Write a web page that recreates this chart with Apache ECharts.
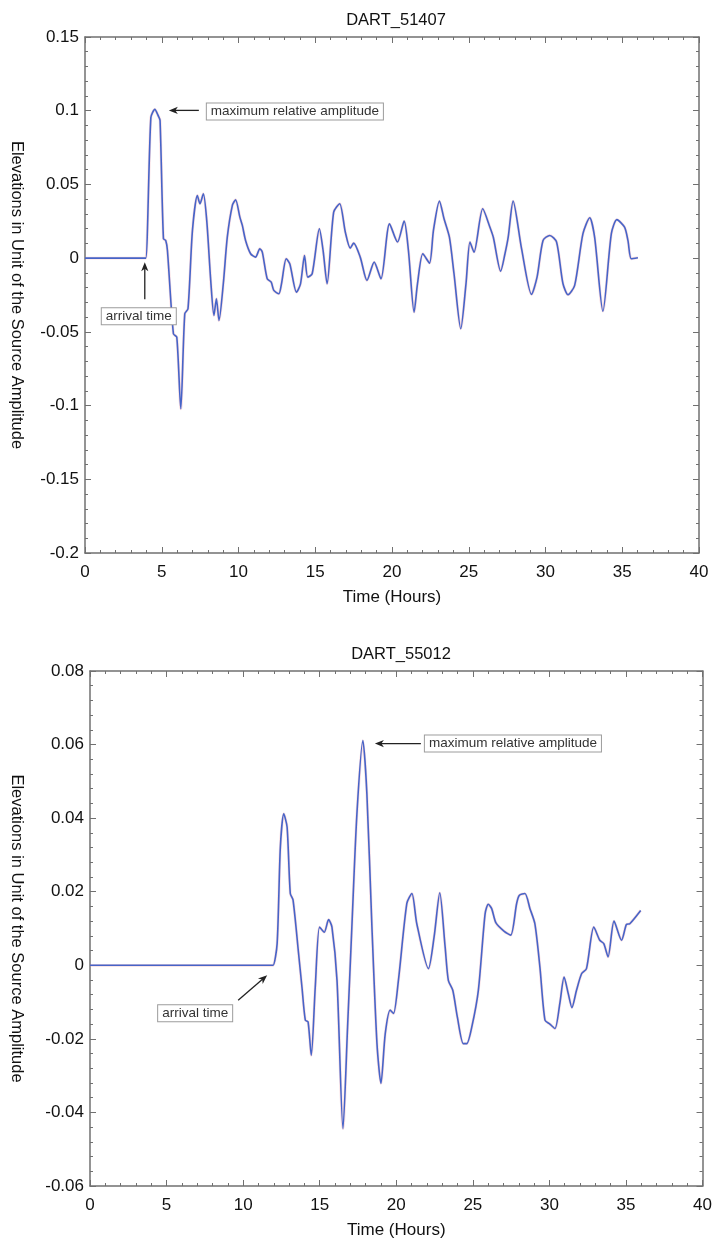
<!DOCTYPE html>
<html><head><meta charset="utf-8">
<script src="https://cdn.jsdelivr.net/npm/echarts@6/dist/echarts.min.js"></script>
<style>html,body{margin:0;padding:0;background:#fff}#c{width:715px;height:1241px}</style>
</head><body><div id="c"></div>
<script>
// ---- data ----
const titles = ['DART_51407', 'DART_55012'];
const xAxisName = 'Time (Hours)';
const yAxisName = 'Elevations in Unit of the Source Amplitude';
const annotationMax = 'maximum relative amplitude';
const annotationArrival = 'arrival time';

const topHours = [0, 3.8, 3.96, 4.29, 4.55, 4.79, 4.89, 5.11, 5.26, 5.37, 5.76, 5.98, 6.24, 6.50, 6.71, 7.00, 7.32, 7.49, 7.71, 7.93, 8.19, 8.40, 8.56, 8.73, 9.01, 9.27, 9.60, 9.81, 10.09, 10.25, 10.46, 10.79, 11.11, 11.39, 11.55, 11.87, 12.13, 12.30, 12.63, 12.80, 13.11, 13.34, 13.78, 14.04, 14.30, 14.51, 14.80, 15.27, 15.51, 15.77, 16.20, 16.59, 16.96, 17.28, 17.50, 17.93, 18.37, 18.84, 19.28, 19.84, 20.36, 20.79, 21.07, 21.44, 21.66, 22.01, 22.44, 22.70, 23.09, 23.39, 23.74, 24.04, 24.48, 24.82, 25.08, 25.34, 25.91, 26.38, 26.60, 27.08, 27.36, 27.57, 27.89, 28.44, 29.09, 29.45, 29.84, 30.28, 30.72, 31.14, 31.47, 31.90, 32.44, 32.88, 33.20, 33.74, 34.29, 34.65, 35.15, 35.37, 35.59, 36.02];
const topElevation = [0, 0, 0, 0.0953, 0.1009, 0.0961, 0.0934, 0.0132, 0.0120, 0.0052, -0.0513, -0.0536, -0.1022, -0.0377, -0.0343, 0.0188, 0.0425, 0.0369, 0.0437, 0.0256, -0.0151, -0.0389, -0.0275, -0.0423, -0.0174, 0.0142, 0.0358, 0.0396, 0.0278, 0.0222, 0.0120, 0.0030, 0.0007, 0.0064, 0.0041, -0.0140, -0.0163, -0.0219, -0.0242, -0.0174, -0.0004, -0.0038, -0.0231, -0.0174, 0.0018, -0.0129, -0.0106, 0.0199, 0.0052, -0.0174, 0.0312, 0.0369, 0.0176, 0.0068, 0.0102, 0.0007, -0.0151, -0.0027, -0.0140, 0.0233, 0.0109, 0.0251, 0.0052, -0.0366, -0.0174, 0.0030, -0.0034, 0.0188, 0.0387, 0.0267, 0.0142, -0.0106, -0.0479, -0.0174, 0.0109, 0.0041, 0.0335, 0.0210, 0.0142, -0.0088, 0.0030, 0.0142, 0.0387, 0.0064, -0.0246, -0.0129, 0.0120, 0.0154, 0.0109, -0.0174, -0.0248, -0.0185, 0.0166, 0.0274, 0.0142, -0.0360, 0.0166, 0.0261, 0.0210, 0.0120, -0.0004, 0.0003];

const bottomHours = [0, 11.8, 11.96, 12.22, 12.43, 12.65, 12.87, 13.08, 13.26, 13.62, 13.84, 14.06, 14.24, 14.45, 14.71, 14.99, 15.30, 15.58, 15.80, 16.13, 16.52, 16.82, 17.10, 17.43, 17.82, 18.08, 18.41, 18.74, 19.00, 19.28, 19.60, 19.82, 20.14, 20.69, 21.02, 21.34, 22.10, 22.47, 22.84, 23.19, 23.40, 23.69, 23.99, 24.38, 24.60, 24.93, 25.36, 25.80, 26.01, 26.23, 26.51, 27.03, 27.47, 27.86, 28.03, 28.40, 28.73, 29.05, 29.38, 29.71, 30.03, 30.36, 30.68, 30.96, 31.23, 31.47, 31.77, 32.10, 32.42, 32.90, 33.29, 33.55, 33.83, 34.22, 34.71, 35.03, 35.25, 35.96];
const bottomElevation = [0, 0, 0, 0.0059, 0.0321, 0.0412, 0.0376, 0.0195, 0.0177, 0.0032, -0.0059, -0.0149, -0.0154, -0.0245, -0.0059, 0.0104, 0.0090, 0.0124, 0.0104, -0.0041, -0.0444, -0.0168, 0.0104, 0.0412, 0.0611, 0.0467, 0.0104, -0.0213, -0.0321, -0.0186, -0.0122, -0.0131, -0.0041, 0.0168, 0.0195, 0.0113, -0.0009, 0.0077, 0.0197, 0.0050, -0.0041, -0.0068, -0.0141, -0.0213, -0.0213, -0.0168, -0.0068, 0.0140, 0.0166, 0.0154, 0.0115, 0.0093, 0.0082, 0.0168, 0.0190, 0.0195, 0.0154, 0.0113, -0.0005, -0.0149, -0.0160, -0.0172, -0.0104, -0.0032, -0.0077, -0.0115, -0.0068, -0.0023, -0.0009, 0.0104, 0.0068, 0.0059, 0.0023, 0.0120, 0.0068, 0.0111, 0.0113, 0.0149];

const xRange = [0, 40, 5];
const topYRange = [-0.2, 0.15, 0.05];
const bottomYRange = [-0.06, 0.08, 0.02];

// ---- chart ----
const FONT = '"Liberation Sans", Arial, Helvetica, sans-serif';
const AX = '#707070';
const chart = echarts.init(document.getElementById('c'), null, {renderer: 'canvas'});

function zip(xs, ys) { return xs.map((x, i) => [x, ys[i]]); }

function xAxes(grid) {
  const base = {
    gridIndex: grid, type: 'value', min: xRange[0], max: xRange[1], interval: xRange[2],
    axisLine: {show: true, onZero: false, lineStyle: {color: AX, width: 1.5}},
    axisTick: {show: true, inside: true, length: 6, lineStyle: {color: AX, width: 1}},
    minorTick: {show: true, splitNumber: 5, length: 3, lineStyle: {color: AX, width: 1}},
    splitLine: {show: false}
  };
  return [
    Object.assign({}, base, {position: 'bottom',
      axisLabel: {show: true, margin: 11, fontSize: 17, color: '#111', fontFamily: FONT},
      name: xAxisName, nameLocation: 'middle', nameGap: 36,
      nameTextStyle: {fontSize: 17, color: '#111', fontFamily: FONT}}),
    Object.assign({}, base, {position: 'top', axisLabel: {show: false}})
  ];
}
function yAxes(grid, r, gap) {
  const base = {
    gridIndex: grid, type: 'value', min: r[0], max: r[1], interval: r[2],
    axisLine: {show: true, onZero: false, lineStyle: {color: AX, width: 1.5}},
    axisTick: {show: true, inside: true, length: 6, lineStyle: {color: AX, width: 1}},
    minorTick: {show: true, splitNumber: 5, length: 3, lineStyle: {color: AX, width: 1}},
    splitLine: {show: false}
  };
  return [
    Object.assign({}, base, {position: 'left',
      axisLabel: {show: true, margin: 6, fontSize: 17, color: '#111', fontFamily: FONT},
      name: yAxisName, nameLocation: 'middle', nameRotate: -90, nameGap: gap,
      nameTextStyle: {fontSize: 16.5, color: '#111', fontFamily: FONT}}),
    Object.assign({}, base, {position: 'right', axisLabel: {show: false}})
  ];
}
function lineSeries(xi, yi, data) {
  return [
    {type: 'line', xAxisIndex: xi, yAxisIndex: yi, data, showSymbol: false, smooth: 0.25,
     lineStyle: {color: '#e88a98', width: 2.8, opacity: 0.3}, silent: true, animation: false, z: 2},
    {type: 'line', xAxisIndex: xi, yAxisIndex: yi, data, showSymbol: false, smooth: 0.25,
     lineStyle: {color: '#4664c8', width: 1.6}, silent: true, animation: false, z: 3}
  ];
}

const topData = zip(topHours, topElevation);
const bottomData = zip(bottomHours, bottomElevation);

chart.setOption({
  backgroundColor: '#fff',
  animation: false,
  title: [
    {text: titles[0], left: 391, top: 7, textAlign: 'center',
     textStyle: {fontSize: 16.5, fontWeight: 'normal', color: '#111', fontFamily: FONT}},
    {text: titles[1], left: 396, top: 641, textAlign: 'center',
     textStyle: {fontSize: 16.5, fontWeight: 'normal', color: '#111', fontFamily: FONT}}
  ],
  grid: [
    {left: 84, top: 37, right: 16, height: 516},
    {left: 89, top: 671, right: 12, height: 515}
  ],
  xAxis: [].concat(xAxes(0), xAxes(1)),
  yAxis: [].concat(yAxes(0, topYRange, 60), yAxes(1, bottomYRange, 65)),
  series: [].concat(lineSeries(0, 0, topData), lineSeries(2, 2, bottomData))
});

// ---- annotations anchored on the data ----
function arrow(x1, y1, x2, y2) {
  const dx = x2 - x1, dy = y2 - y1, L = Math.hypot(dx, dy), ux = dx / L, uy = dy / L, px = -uy, py = ux;
  const hl = 9, hw = 3.6, notch = 2.5;
  const bx = x2 - ux * hl, by = y2 - uy * hl;
  return [
    {type: 'line', silent: true, z: 20, shape: {x1, y1, x2: x2 - ux * hl * 0.6, y2: y2 - uy * hl * 0.6},
     style: {stroke: '#222', lineWidth: 1.3}},
    {type: 'polygon', silent: true, z: 20,
     shape: {points: [[x2, y2], [bx + px * hw, by + py * hw], [x2 - ux * (hl - notch), y2 - uy * (hl - notch)], [bx - px * hw, by - py * hw]]},
     style: {fill: '#222'}}
  ];
}
function box(text, x, y) {
  return {type: 'text', silent: true, z: 20, x, y,
    style: {text, fontSize: 13.5, fontFamily: FONT, fill: '#333', backgroundColor: '#fff',
      borderColor: '#9c9c9c', borderWidth: 1, padding: [1, 4], align: 'left', verticalAlign: 'middle'}};
}
function peakIndex(vals) { let k = 0; vals.forEach((v, i) => { if (v > vals[k]) k = i; }); return k; }
function arrivalIndex(vals) { let k = 0; for (let i = 0; i < vals.length; i++) { if (vals[i] !== 0) break; k = i; } return k; }

const gEls = [];
{
  const P = chart.convertToPixel({xAxisIndex: 0, yAxisIndex: 0}, topData[peakIndex(topElevation)]);
  const A = chart.convertToPixel({xAxisIndex: 0, yAxisIndex: 0}, topData[arrivalIndex(topElevation)]);
  gEls.push(...arrow(P[0] + 44, P[1] + 1, P[0] + 14, P[1] + 1));
  gEls.push(box(annotationMax, P[0] + 52, P[1] + 2));
  gEls.push(...arrow(A[0] - 1, A[1] + 41, A[0] - 1, A[1] + 4));
  gEls.push(box(annotationArrival, A[0] - 44, A[1] + 58));
}
{
  const P = chart.convertToPixel({xAxisIndex: 2, yAxisIndex: 2}, bottomData[peakIndex(bottomElevation)]);
  const A = chart.convertToPixel({xAxisIndex: 2, yAxisIndex: 2}, bottomData[arrivalIndex(bottomElevation)]);
  gEls.push(...arrow(P[0] + 58, P[1] + 3, P[0] + 12, P[1] + 3));
  gEls.push(box(annotationMax, P[0] + 62, P[1] + 3));
  gEls.push(...arrow(A[0] - 35, A[1] + 35, A[0] - 6, A[1] + 10));
  gEls.push(box(annotationArrival, A[0] - 115, A[1] + 48));
}
chart.setOption({graphic: gEls});
</script>
</body></html>
